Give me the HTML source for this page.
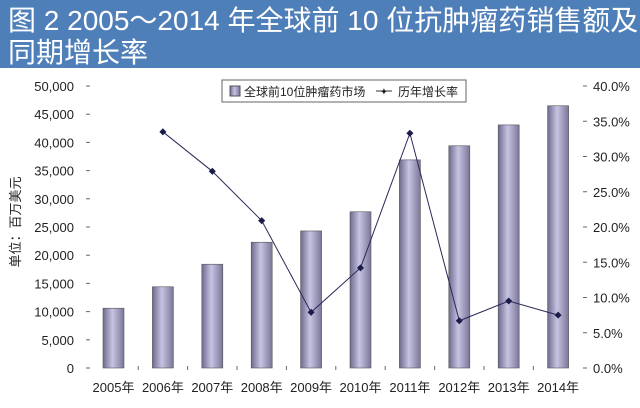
<!DOCTYPE html>
<html><head><meta charset="utf-8"><style>
body{margin:0;background:#fff;}
svg{display:block;font-family:"Liberation Sans","Noto Sans CJK SC",sans-serif;}
</style></head><body>
<svg id="c" width="640" height="408" viewBox="0 0 640 408">
<defs>
<linearGradient id="bg" x1="0" x2="1" y1="0" y2="0">
<stop offset="0" stop-color="#6e6a8e"/><stop offset="0.45" stop-color="#c6c4e2"/><stop offset="1" stop-color="#7a7698"/>
</linearGradient>
</defs>
<rect x="0" y="0" width="640" height="68" fill="#4f7fb8"/>
<text x="8" y="30" font-size="28" fill="#fff">图 2  2005～2014 年全球前 10 位抗肿瘤药销售额及</text>
<text x="8" y="62" font-size="28" fill="#fff">同期增长率</text>
<text transform="translate(20,222) rotate(-90)" text-anchor="middle" font-size="13" fill="#222">单位：百万美元</text>
<g>
<rect x="222" y="80" width="244" height="22" fill="#fff" stroke="#666"/>
<rect x="230" y="86" width="10" height="10" fill="url(#bg)" stroke="#555"/>
<text x="244" y="96" font-size="12" fill="#222">全球前10位肿瘤药市场</text>
<line x1="376" y1="91" x2="392" y2="91" stroke="#333"/>
<text x="384" y="95" font-size="10" text-anchor="middle" fill="#222">✦</text>
<text x="398" y="96" font-size="12" fill="#222">历年增长率</text>
</g>
<g id="axes"></g><g id="bars"></g><g id="line"></g>
</svg>
<script>
const categories=["2005年","2006年","2007年","2008年","2009年","2010年","2011年","2012年","2013年","2014年"];
const sales=[10600,14400,18400,22300,24300,27700,36900,39400,43100,46500];
const growth=[null,33.5,27.9,20.9,7.9,14.2,33.3,6.7,9.5,7.5];
const leftTicks=["0","5,000","10,000","15,000","20,000","25,000","30,000","35,000","40,000","45,000","50,000"];
const rightTicks=["0.0%","5.0%","10.0%","15.0%","20.0%","25.0%","30.0%","35.0%","40.0%"];
const NS="http://www.w3.org/2000/svg";
const y0=368,yTop=86;
const yL=v=>y0-(v/50000)*(y0-yTop);
const yR=v=>y0-(v/40)*(y0-yTop);
const xC=i=>113.5+i*49.4;
function mk(t,a,p){const e=document.createElementNS(NS,t);for(const k in a)e.setAttribute(k,a[k]);p.appendChild(e);return e;}
const ax=document.getElementById('axes'),bars=document.getElementById('bars'),ln=document.getElementById('line');
leftTicks.forEach((t,i)=>{const y=yL(i*5000);
const e=mk('text',{x:74,y:y+5,'text-anchor':'end','font-size':13,fill:'#222'},ax);e.textContent=t;


mk('line',{x1:86,x2:90,y1:y,y2:y,stroke:'#666'},ax);});
rightTicks.forEach((t,i)=>{const y=yR(i*5);
const e=mk('text',{x:593,y:y+5,'font-size':13,fill:'#222'},ax);e.textContent=t;


mk('line',{x1:583,x2:587,y1:y,y2:y,stroke:'#666'},ax);});
categories.forEach((c,i)=>{
const e=mk('text',{x:xC(i),y:392,'text-anchor':'middle','font-size':13,fill:'#222'},ax);e.textContent=c;


if(i>0)mk('line',{x1:xC(i)-24.7,x2:xC(i)-24.7,y1:366,y2:370,stroke:'#666'},ax);
const b=mk('rect',{x:xC(i)-10.5,y:yL(sales[i]),width:21,height:y0-yL(sales[i]),fill:'url(#bg)',stroke:'#555','stroke-width':0.6},bars);


});
let pts=[];growth.forEach((g,i)=>{if(g!==null)pts.push([xC(i),yR(g)]);});
const pl=mk('polyline',{points:pts.map(p=>p.join(',')).join(' '),fill:'none',stroke:'#2a2a5a','stroke-width':1},ln);


pts.forEach(p=>{const d=mk('rect',{x:p[0]-2.5,y:p[1]-2.5,width:5,height:5,fill:'#1c1c4a',transform:`rotate(45 ${p[0]} ${p[1]})`},ln);

});
</script>
</body></html>
